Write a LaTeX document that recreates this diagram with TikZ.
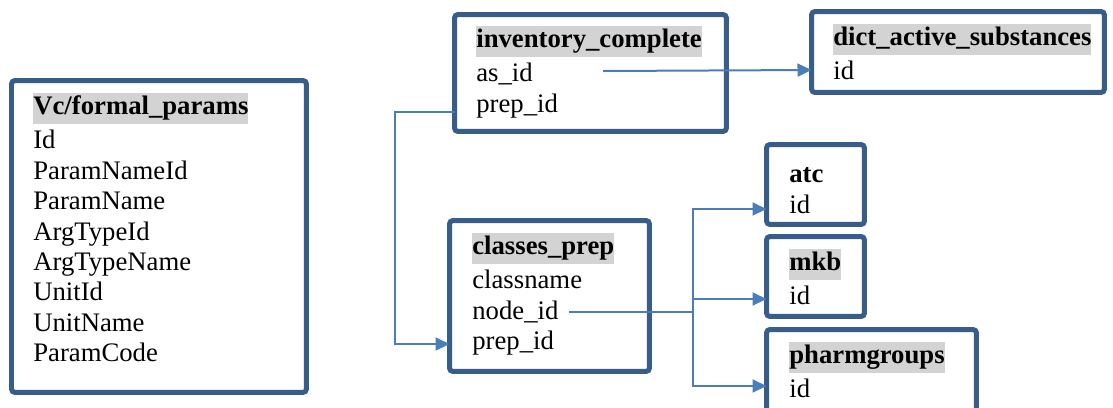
\documentclass[tikz,border=0pt]{standalone}
\usepackage{fontspec}
\setmainfont{Liberation Serif}
\usepackage{tikz}
\usetikzlibrary{arrows.meta, calc}
\usepackage{xcolor}
\definecolor{cFrame}{RGB}{56,93,138}
\definecolor{cLink}{RGB}{74,126,187}
\definecolor{cHead}{RGB}{211,211,211}
\newcommand{\tabhead}[1]{{\setlength{\fboxsep}{0pt}\colorbox{cHead}{\strut\textbf{#1}}}}
\newcommand{\tabplain}[1]{\strut\textbf{#1}}
\tikzset{
  tablebox/.style={rectangle, rounded corners=2pt, draw=cFrame,
                   line width=0.1cm, outer sep=0pt, inner sep=0pt,
                   anchor=north west},
  fieldlist/.style={anchor=north west, inner sep=0pt, align=left,
                    font=\fontsize{15.2}{17.3}\selectfont},
  link/.style={-{Triangle[length=0.28cm, width=0.26cm]}, draw=cLink,
               line width=0.04cm},
  plainlink/.style={draw=cLink, line width=0.04cm}
}

\begin{document}
\begin{tikzpicture}[x=0.02cm, y=-0.02cm]
  \useasboundingbox (0,0) rectangle (1113,407);

  % Table frames
  \node[tablebox, minimum width=5.9cm, minimum height=6.24cm] (vcbox) at (11.5,80.5) {};
  \node[tablebox, minimum width=5.44cm, minimum height=2.34cm] (invbox) at (454.5,14.5) {};
  \node[tablebox, minimum width=5.86cm, minimum height=1.62cm] (dictbox) at (811.5,11.5) {};
  \node[tablebox, minimum width=4.0cm, minimum height=3.02cm] (classbox) at (449.5,220.5) {};
  \node[tablebox, minimum width=1.96cm, minimum height=1.6cm] (atcbox) at (766.5,144.5) {};
  \node[tablebox, minimum width=1.96cm, minimum height=1.6cm] (mkbbox) at (766.5,236.5) {};
  \node[tablebox, minimum width=4.2cm, minimum height=2.2cm] (pharmbox) at (766.5,329.5) {};

  % Table fields
  \node[fieldlist] (vc) at (33,93) {\tabhead{Vc/formal\_params}\\[2.2pt]Id\\ParamNameId\\ParamName\\ArgTypeId\\ArgTypeName\\UnitId\\UnitName\\ParamCode};
  \node[fieldlist] (inv) at (476,26) {\tabhead{inventory\_complete}\\[2.2pt]as\_id\\prep\_id};
  \node[fieldlist] (dict) at (833,24) {\tabhead{dict\_active\_substances}\\[2.2pt]id};
  \node[fieldlist] (class) at (472,233) {\tabhead{classes\_prep}\\[2.2pt]classname\\node\_id\\prep\_id};
  \node[fieldlist] (atc) at (789,161) {\tabplain{atc}\\id};
  \node[fieldlist] (mkb) at (789,249) {\tabhead{mkb}\\[2.2pt]id};
  \node[fieldlist] (pharm) at (789,342) {\tabhead{pharmgroups}\\[2.2pt]id};

  % Links
  \coordinate (asid) at (603,71);
  \coordinate (nodeid) at (569,312);
  \coordinate (fork) at (693,312);
  \draw[link] (asid) -- ($(dictbox.north west)+(0,58.5)$);
  \draw[link] ($(invbox.north west)+(0,97.5)$) -- ++(-59.5,0)
      |- ($(classbox.north west)+(0,123.5)$);
  \draw[plainlink] (nodeid) -- (fork);
  \draw[link] (fork) |- ($(atcbox.north west)+(0,64.5)$);
  \draw[link] (fork) |- ($(mkbbox.north west)+(0,62.5)$);
  \draw[link] (fork) |- ($(pharmbox.north west)+(0,56.5)$);
\end{tikzpicture}
\end{document}
